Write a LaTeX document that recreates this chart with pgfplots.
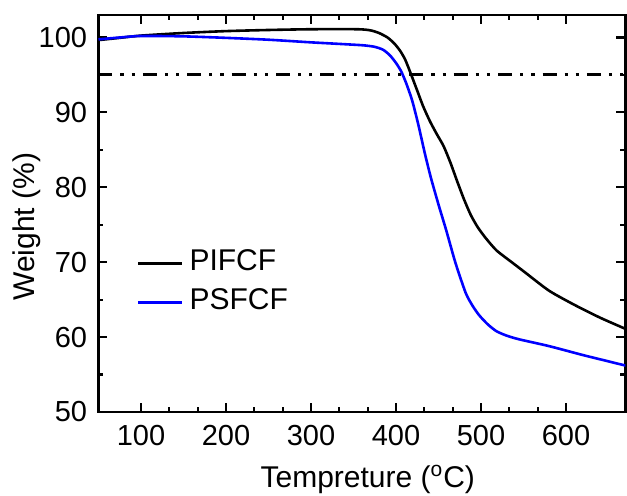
\documentclass[border=0pt]{standalone}
\usepackage{fontspec}
\setmainfont{Liberation Sans}
\usepackage{pgfplots}
\pgfplotsset{compat=1.18}
\begin{document}
\begin{tikzpicture}
\begin{axis}[
  at={(0pt,0pt)}, anchor=south west,
  scale only axis, width=263.5pt, height=198.5pt,
  xmin=50, xmax=670, ymin=50, ymax=103,
  xtick={100,200,...,600}, ytick={50,60,...,100},
  minor x tick num=2, minor y tick num=1,
  tick align=inside,
  major tick length=4.5pt, minor tick length=2.5pt,
  every tick/.style={line width=1.1pt, black},
  axis line style={line width=1.2pt},
  tick label style={font=\fontsize{14.5}{16}\selectfont},
  /pgf/number format/assume math mode=true,
  xticklabel style={inner sep=0pt, yshift=-6.5pt},
  yticklabel style={inner sep=0pt, xshift=-5.5pt},
  xlabel={Tempreture (\textsuperscript{o}C)},
  ylabel={Weight (\%)},
  label style={font=\fontsize{15}{18}\selectfont},
  xlabel style={at={(axis description cs:0.511,-0.189)}, anchor=base},
  ylabel style={at={(axis description cs:-0.1213,0.467)}, anchor=base},
  legend style={draw=none, fill=none, inner sep=0pt, outer sep=0pt,
    at={(axis description cs:0.073,0.413)}, anchor=north west,
    row sep=8.7pt, column sep=3pt,
    font=\fontsize{15}{18}\selectfont,
    nodes={inner sep=0pt, text height=11pt, text depth=0pt}},
  legend cell align=left,
  legend image code/.code={\path[draw=none, fill=none] (0pt,2.8pt) -- (0pt,-2.8pt);
    \draw[#1] (0pt,-2.15pt) -- (22pt,-2.15pt);},
]
\addplot[black, line width=1.5pt, forget plot,
  dash pattern=on 7pt off 4pt on 1.6pt off 4pt on 1.6pt off 4pt]
  coordinates {(50,95) (670,95)};
\addplot[black, line width=1.3pt, smooth, tension=0.4] coordinates {
(50,99.65) (75,99.95) (100,100.25) (150,100.6) (200,100.85) (250,101.0)
(300,101.1) (355,101.1) (370,100.95) (380,100.6) (390,100.0) (398,99.2)
(405,98.2) (411,97.0) (418,95.0) (425,92.9) (432,90.8) (440,88.8)
(448,87.1) (456,85.5) (464,83.3) (472,80.8) (480,78.4) (488,76.3)
(496,74.7) (505,73.3) (518,71.6) (535,70.1) (550,68.8) (580,66.2)
(610,64.3) (640,62.6) (670,61.1)};
\addlegendentry{PIFCF}
\addplot[blue, line width=1.3pt, smooth, tension=0.4] coordinates {
(50,99.75) (75,100.0) (100,100.2) (150,100.15) (200,99.95) (250,99.7)
(300,99.35) (340,99.1) (362,98.95) (375,98.75) (385,98.35) (393,97.6)
(400,96.6) (406,95.5) (412,93.9) (419,91.6) (426,88.5) (434,84.5)
(441,81.3) (450,77.7) (459,74.3) (470,69.9) (482,65.9) (490,64.2)
(498,62.9) (508,61.7) (518,60.8) (530,60.2) (545,59.7) (580,58.8)
(620,57.6) (645,56.9) (670,56.2)};
\addlegendentry{PSFCF}
\end{axis}
\pgfresetboundingbox
\useasboundingbox (-49.25pt,-41.5pt) rectangle (264.25pt,206pt);
\end{tikzpicture}
\end{document}
